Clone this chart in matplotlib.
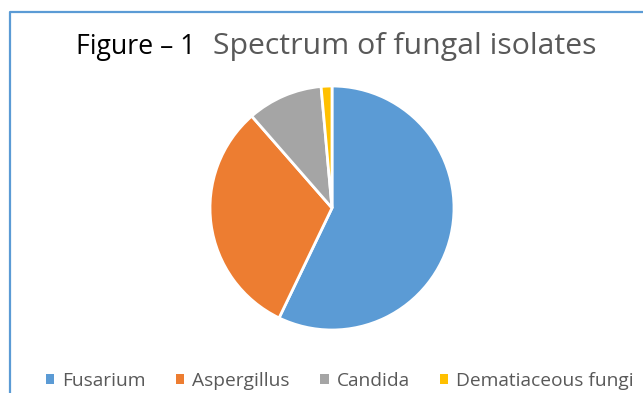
import matplotlib.pyplot as plt
from matplotlib.lines import Line2D
from matplotlib.patches import Patch

plt.rcParams['font.family'] = ['Open Sans', 'DejaVu Sans']

categories = ["Fusarium", "Aspergillus", "Candida", "Dematiaceous fungi"]
counts = [40, 22, 7, 1]
colors = ["#5B9BD5", "#ED7D31", "#A5A5A5", "#FFC000"]

W, H = 643, 393
fig = plt.figure(figsize=(W / 100, H / 100), dpi=100)

# chart frame (only left/top edges visible in the crop)
frame = Line2D([10 / W, 10 / W, 1.0], [0.0, 1 - 12 / H, 1 - 12 / H],
               transform=fig.transFigure, color="#5B9BD5", lw=1.6)
fig.add_artist(frame)

# title
fig.text(76 / W, 1 - 54 / H, "Figure \u2013 1", color="black",
         fontsize=19.2, va="baseline")
fig.text(213 / W, 1 - 54 / H, "Spectrum of fungal isolates", color="#595959",
         fontsize=21.8, va="baseline")

# pie
cx, cy, r = 332, 208, 122
ax = fig.add_axes([(cx - r) / W, (H - cy - r) / H, 2 * r / W, 2 * r / H])
ax.pie(counts, colors=colors, startangle=90, counterclock=False,
       wedgeprops=dict(edgecolor="white", linewidth=2))
ax.set_xlim(-1, 1)
ax.set_ylim(-1, 1)
ax.set_aspect("equal")
ax.axis("off")

handles = [Patch(facecolor=c, edgecolor="none") for c in colors]
fig.legend(handles, categories, loc="center", bbox_to_anchor=(340 / W, 1 - 381 / H),
           ncol=4, frameon=False, fontsize=13.8, handlelength=0.42, handleheight=0.42,
           handletextpad=0.42, columnspacing=1.6, labelcolor="#595959")

fig.savefig("out.png", dpi=100)
